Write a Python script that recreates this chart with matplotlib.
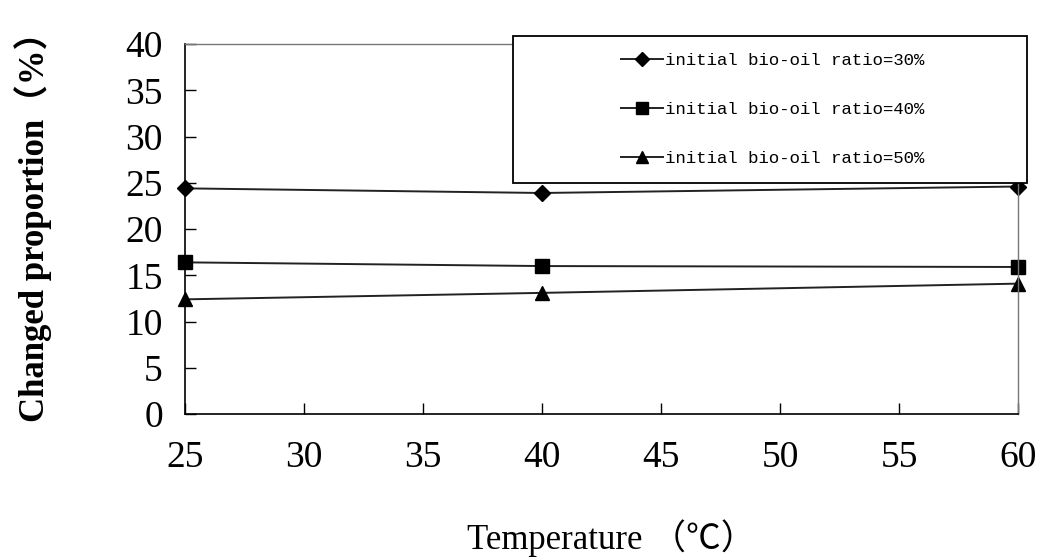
import matplotlib.pyplot as plt
from matplotlib.patches import Rectangle

temps = [25, 40, 60]
ratio30 = [24.4, 23.9, 24.6]
ratio40 = [16.4, 16.0, 15.9]
ratio50 = [12.4, 13.1, 14.1]
labels = ['initial bio-oil ratio=30%', 'initial bio-oil ratio=40%', 'initial bio-oil ratio=50%']

serif = ['Liberation Serif', 'Noto Sans CJK SC']
plt.rcParams['font.family'] = serif

fig = plt.figure(figsize=(10.4, 5.58), dpi=100)
ax = fig.add_axes([0.178, 0.258, 0.801, 0.663])

l1, = ax.plot(temps, ratio30, color='#222222', lw=1.4, marker='D', ms=8, mfc='black', mec='black', clip_on=False)
l2, = ax.plot(temps, ratio40, color='#222222', lw=1.4, marker='s', ms=10, mfc='black', mec='black', clip_on=False)
l3, = ax.plot(temps, ratio50, color='#222222', lw=1.4, marker='^', ms=10, mfc='black', mec='black', clip_on=False)

ax.set_xlim(25, 60)
ax.set_ylim(0, 40)
ax.set_xticks(range(25, 61, 5))
ax.set_yticks(range(0, 41, 5))
ax.tick_params(direction='in', length=8, width=1, labelsize=27)
ax.tick_params(axis='y', pad=16)
ax.tick_params(axis='x', pad=19)

for s in ['left', 'bottom']:
    ax.spines[s].set_linewidth(1.2)
    ax.spines[s].set_color('black')
for s in ['top', 'right']:
    ax.spines[s].set_linewidth(1.0)
    ax.spines[s].set_color('#777777')

ax.set_ylabel('Changed proportion（%）', fontsize=25, fontweight='bold')
ax.yaxis.set_label_coords(-0.16, 0.53)
fig.text(0.588, 0.016, 'Temperature （℃）', fontsize=25, ha='center', va='baseline')

# legend box
fig.patches.append(Rectangle((513 / 1040, 1 - 183 / 558), (1027 - 513) / 1040, (183 - 36) / 558,
                             transform=fig.transFigure, facecolor='white', edgecolor='black',
                             lw=1.3, zorder=5))
leg = fig.legend([l1, l2, l3], labels, loc='center', bbox_to_anchor=(0.743, 0.804),
                 frameon=False, prop={'family': 'Liberation Mono', 'size': 12.5},
                 labelspacing=1.95, handlelength=2.4, handletextpad=0.1, markerscale=0.85)
leg.set_zorder(6)

fig.savefig('out.png', dpi=100)
